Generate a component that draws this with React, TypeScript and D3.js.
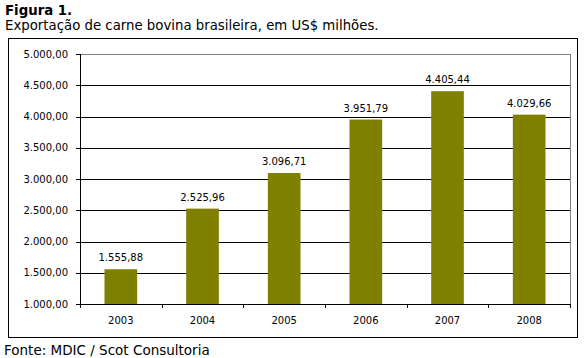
import React from "react";
import * as d3 from "d3";

const years = ["2003", "2004", "2005", "2006", "2007", "2008"];
const values = [1555.88, 2525.96, 3096.71, 3951.79, 4405.44, 4029.66];
const yTicks = [1000, 1500, 2000, 2500, 3000, 3500, 4000, 4500, 5000];
const title = "Figura 1.";
const subtitle = "Exportação de carne bovina brasileira, em US$ milhões.";
const source = "Fonte: MDIC / Scot Consultoria";

const locale = d3.formatLocale({ decimal: ",", thousands: ".", grouping: [3], currency: ["US$", ""] });
const fmt = locale.format(",.2f");

export default function App() {
  const W = 584, H = 358;
  const left = 80, right = 570, top = 54, bottom = 304;
  const x = d3.scaleBand<string>().domain(years).range([left, right]).paddingInner(0.6).paddingOuter(0.3);
  const y = d3.scaleLinear().domain([1000, 5000]).range([bottom, top]);
  const step = x.step();
  const font = "'DejaVu Sans', Verdana, sans-serif";
  const boundaries = d3.range(years.length + 1).map((i) => left + i * step);

  return (
    <svg width={W} height={H} style={{ position: "absolute", left: 0, top: 0, display: "block", background: "#fff" }} fontFamily={font}>
      <text x={5} y={15} fontSize={13.3} fontWeight="bold" fill="#000">{title}</text>
      <text x={5} y={30} fontSize={13.3} fill="#000">{subtitle}</text>
      <rect x={8.5} y={38.5} width={569} height={299} fill="none" stroke="#000" strokeWidth={1} />
      <line x1={left} x2={right + 0.5} y1={y(5000) + 0.5} y2={y(5000) + 0.5} stroke="#808080" />
      <line x1={right + 0.5} x2={right + 0.5} y1={top} y2={bottom} stroke="#808080" />
      {yTicks.filter((t) => t !== 5000).map((t) => (
        <line key={"g" + t} x1={left - 4} x2={right} y1={Math.round(y(t)) + 0.5} y2={Math.round(y(t)) + 0.5} stroke="#000" />
      ))}
      <line x1={left - 4} x2={left} y1={y(5000) + 0.5} y2={y(5000) + 0.5} stroke="#000" />
      {yTicks.map((t) => (
        <text key={"t" + t} x={68} y={y(t)} dy="0.35em" textAnchor="end" fontSize={10} fill="#000">{fmt(t)}</text>
      ))}
      {years.map((yr, i) => (
        <g key={yr}>
          <rect x={x(yr)} y={y(values[i])} width={x.bandwidth()} height={bottom - y(values[i])} fill="#808000" />
          <text x={(x(yr) as number) + x.bandwidth() / 2} y={y(values[i]) - 8} textAnchor="middle" fontSize={10} fill="#000">{fmt(values[i])}</text>
          <text x={(x(yr) as number) + x.bandwidth() / 2} y={324} textAnchor="middle" fontSize={10} fill="#000">{yr}</text>
        </g>
      ))}
      <line x1={left + 0.5} x2={left + 0.5} y1={top} y2={bottom} stroke="#000" />
      <line x1={left} x2={right + 1} y1={bottom + 0.5} y2={bottom + 0.5} stroke="#000" />
      {boundaries.map((b, i) => (
        <line key={"b" + i} x1={Math.round(b) + 0.5} x2={Math.round(b) + 0.5} y1={bottom} y2={bottom + 4} stroke="#000" />
      ))}
      <text x={4} y={355} fontSize={13.5} fill="#000">{source}</text>
    </svg>
  );
}
